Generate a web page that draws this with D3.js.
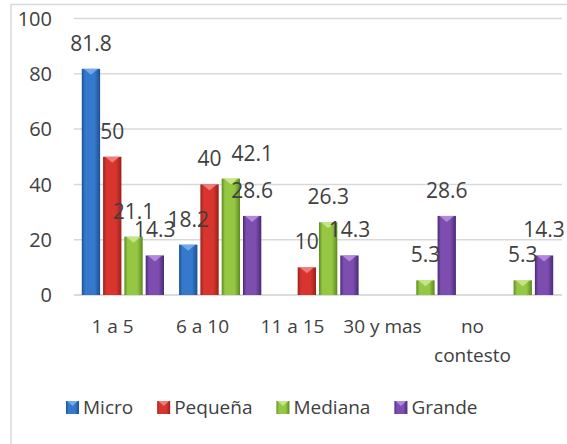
<!DOCTYPE html>
<html>
<head>
<meta charset="utf-8">
<script src="https://cdn.jsdelivr.net/npm/d3@7"></script>
<style>
  html, body { margin: 0; padding: 0; background: #fff; }
  svg { display: block; font-family: 'Open Sans', sans-serif; }
</style>
</head>
<body>
<svg id="chart" width="567" height="444"></svg>
<script>
// Chart data
const categories = ['1 a 5', '6 a 10', '11 a 15', '30 y mas', 'no contesto'];
const seriesNames = ['Micro', 'Pequeña', 'Mediana', 'Grande'];
const micro   = [81.8, 18.2, null, null, null];
const pequena = [50, 40, 10, null, null];
const mediana = [21.1, 42.1, 26.3, 5.3, 5.3];
const grande  = [14.3, 28.6, 14.3, 28.6, 14.3];
const yTicks  = [0, 20, 40, 60, 80, 100];

const seriesValues = [micro, pequena, mediana, grande];

// Colours: [edge, middle, top cap]
const seriesColors = [
    ['#1d4f93', '#3479cc', '#7fb2ee'],
    ['#9c1f1c', '#d8352f', '#f08a86'],
    ['#5e8a1e', '#95c743', '#cdea93'],
    ['#4a2a74', '#7d4db0', '#b894e0']
];
const textColor = '#404040';
const gridColor = '#d9d9d9';

const svg = d3.select('#chart');

// Outer chart border (runs off the right and bottom)
svg.append('rect')
    .attr('x', 11).attr('y', 4.5)
    .attr('width', 620).attr('height', 500)
    .attr('fill', 'none')
    .attr('stroke', gridColor)
    .attr('stroke-width', 1.5);

// Gradients for the bevelled bars
const defs = svg.append('defs');
seriesColors.forEach((c, i) => {
    const grad = defs.append('linearGradient')
        .attr('id', 'grad' + i)
        .attr('x1', '0%').attr('x2', '100%')
        .attr('y1', '0%').attr('y2', '0%');
    grad.append('stop').attr('offset', '0%').attr('stop-color', c[0]);
    grad.append('stop').attr('offset', '18%').attr('stop-color', c[1]);
    grad.append('stop').attr('offset', '70%').attr('stop-color', c[1]);
    grad.append('stop').attr('offset', '100%').attr('stop-color', c[0]);
});

// Scales
const y = d3.scaleLinear().domain([0, 100]).range([295, 18.5]);

const x0 = d3.scaleBand()
    .domain(categories)
    .range([74, 561])
    .paddingInner(0.155)
    .paddingOuter(0.08);

const x1 = d3.scaleBand()
    .domain(seriesNames)
    .range([0, x0.bandwidth()])
    .paddingInner(0.14)
    .paddingOuter(0);

// category labels sit a bit left of the bar groups
const xLabel = d3.scalePoint()
    .domain(categories)
    .range([112.5, 472.5]);

// Gridlines
svg.append('g')
    .selectAll('line')
    .data(yTicks)
    .join('line')
    .attr('x1', 74)
    .attr('x2', 562)
    .attr('y1', d => y(d))
    .attr('y2', d => y(d))
    .attr('stroke', d => d === 0 ? '#cfcfcf' : gridColor)
    .attr('stroke-width', 1.5);

// Y tick labels
svg.append('g')
    .selectAll('text')
    .data(yTicks)
    .join('text')
    .attr('x', 52)
    .attr('y', d => y(d))
    .attr('dy', '0.36em')
    .attr('text-anchor', 'end')
    .attr('font-size', '20px')
    .attr('fill', textColor)
    .text(d => d);

// Flatten values into bar records
const bars = [];
categories.forEach((cat, ci) => {
    seriesNames.forEach((s, si) => {
        const v = seriesValues[si][ci];
        if (v != null) bars.push({ cat, series: s, si, value: v });
    });
});

const barGroup = svg.append('g');
const barX = d => x0(d.cat) + x1(d.series);
const bw = x1.bandwidth();

barGroup.selectAll('rect')
    .data(bars)
    .join('rect')
    .attr('x', barX)
    .attr('y', d => y(d.value))
    .attr('width', bw)
    .attr('height', d => y(0) - y(d.value))
    .attr('fill', d => `url(#grad${d.si})`);

// light cap triangle at the top of each bar
barGroup.selectAll('path')
    .data(bars)
    .join('path')
    .attr('d', d => {
        const bx = barX(d), ty = y(d.value);
        const h = Math.min(6, y(0) - ty);
        return `M${bx + 2},${ty}L${bx + bw - 2},${ty}L${bx + bw / 2},${ty + h}Z`;
    })
    .attr('fill', d => seriesColors[d.si][2])
    .attr('opacity', 0.85);

// Data labels, nudged right when they collide with the previous one
const labelGroup = svg.append('g')
    .attr('font-size', '21px')
    .attr('fill', textColor);

let prev = null;
bars.forEach(d => {
    const cx = barX(d) + bw / 2;
    const by = y(d.value) - 18;
    const t = labelGroup.append('text')
        .attr('x', cx)
        .attr('y', by)
        .attr('text-anchor', 'middle')
        .text(d.value);
    let box = t.node().getBBox();
    if (prev && prev.cat === d.cat && Math.abs(prev.by - by) < 16 && box.x < prev.right) {
        t.attr('text-anchor', 'start').attr('x', prev.right + 10);
        box = t.node().getBBox();
    }
    prev = { cat: d.cat, by, right: box.x + box.width };
});

// Category labels (wrapped)
const catGroup = svg.append('g')
    .attr('font-size', '19px')
    .attr('fill', textColor);

categories.forEach(cat => {
    const t = catGroup.append('text')
        .attr('x', xLabel(cat))
        .attr('y', 333)
        .attr('text-anchor', 'middle')
        .text(cat);
    if (t.node().getComputedTextLength() > 85) {
        const words = cat.split(' ');
        t.text(null);
        words.forEach((w, i) => {
            t.append('tspan')
                .attr('x', xLabel(cat))
                .attr('dy', i === 0 ? 0 : 29)
                .text(w);
        });
    }
});

// Legend
const legend = svg.append('g')
    .attr('font-size', '19px')
    .attr('fill', textColor);

let lx = 66;
seriesNames.forEach((s, i) => {
    legend.append('rect')
        .attr('x', lx)
        .attr('y', 401)
        .attr('width', 13)
        .attr('height', 13)
        .attr('fill', `url(#grad${i})`);
    legend.append('path')
        .attr('d', `M${lx + 1},401L${lx + 12},401L${lx + 6.5},406Z`)
        .attr('fill', seriesColors[i][2])
        .attr('opacity', 0.85);
    const t = legend.append('text')
        .attr('x', lx + 17)
        .attr('y', 414)
        .text(s);
    lx += 17 + t.node().getComputedTextLength() + 24;
});
</script>
</body>
</html>
